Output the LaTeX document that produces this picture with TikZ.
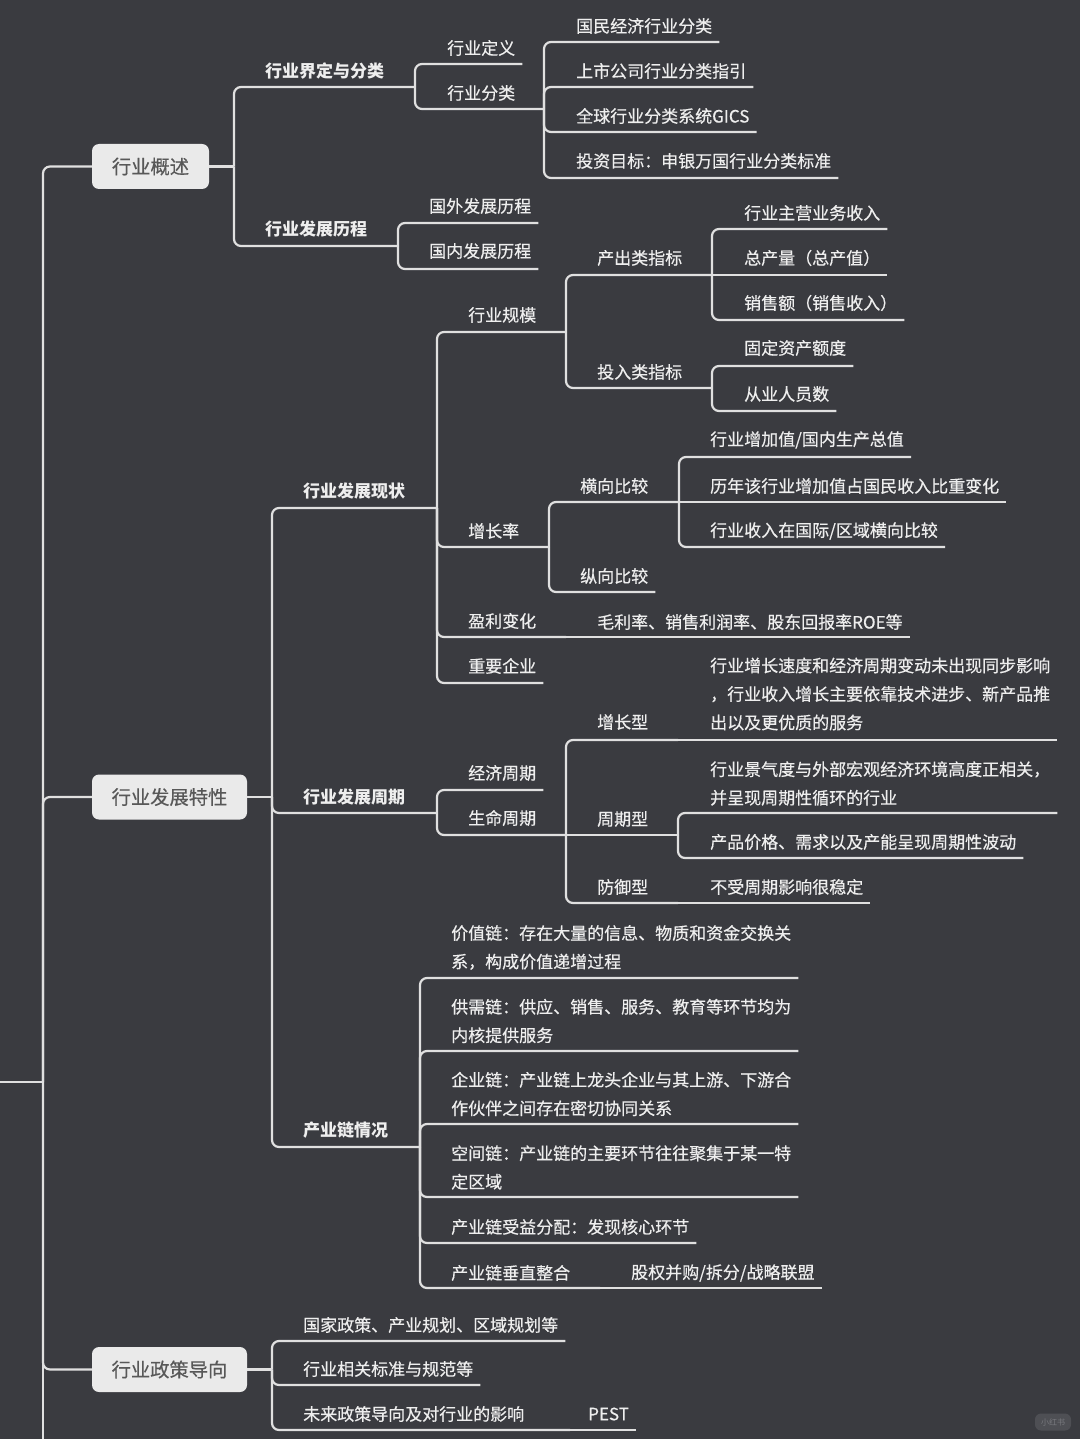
\documentclass[tikz,border=0pt]{standalone}
\usepackage{fontspec}
\setmainfont{Noto Sans CJK SC}
\newfontfamily\medf{Noto Sans CJK SC}[FakeBold=0.45]
\definecolor{bg}{RGB}{58,59,64}
\definecolor{ln}{RGB}{224,224,224}
\definecolor{tx}{RGB}{238,238,238}
\definecolor{boxf}{RGB}{234,234,234}
\definecolor{boxt}{RGB}{88,88,88}
\definecolor{wmf}{RGB}{78,79,84}
\definecolor{wmt}{RGB}{120,121,126}
\tikzset{
  conn/.style={draw=ln, line width=2.2pt, rounded corners=7pt},
  txt/.style={anchor=west, inner xsep=7pt, inner ysep=0pt, text=tx, font=\fontsize{17}{28.5}\selectfont\medf},
  bld/.style={txt, font=\fontsize{17}{28.5}\selectfont\bfseries},
  topbox/.style={rounded corners=7pt, fill=boxf, text=boxt, minimum height=45pt, inner sep=0pt, font=\fontsize{19.3}{24}\selectfont\medf}
}
\begin{document}
\begin{tikzpicture}[x=1pt,y=-1pt]
\fill[bg] (0,0) rectangle (1080,1439);
\useasboundingbox (0,0) rectangle (1080,1439);
\clip (0,0) rectangle (1080,1439);

% ---------- top level boxes ----------
\node[topbox, minimum width=117pt] (gs) at (150.5,166.5) {行业概述};
\node[topbox, minimum width=155pt] (tx) at (169.5,797) {行业发展特性};
\node[topbox, minimum width=155pt] (zc) at (169.5,1369.5) {行业政策导向};

% ---------- spine ----------
\coordinate (root) at (43,1082);
\coordinate (rootin) at (-5,1082);
\coordinate (rootout) at (43,1460);
\draw[draw=ln, line width=2.2pt] (rootin) -- (root);
\draw[draw=ln, line width=2.2pt] (root) -- (rootout);
\draw[conn] (root) |- (gs.west);
\draw[conn] (root) |- (tx.west);
\draw[conn] (root) |- (zc.west);

% ---------- 行业概述 ----------
\node[bld] (a1) at (258,71) {行业界定与分类};
\node[bld] (a2) at (258,229) {行业发展历程};
\coordinate (j1) at (234,166.5);
\coordinate (k1) at (415,87);
\coordinate (k2) at (398,246);
\draw[conn] (gs.east) -- (j1);
\draw[conn] (j1) |- (k1);
\draw[conn] (j1) |- (k2);

\node[txt] (a11) at (440,48) {行业定义};
\node[txt] (a12) at (440,93) {行业分类};
\coordinate (k3) at (544,109);
\draw[conn] (k1) |- (a11.east |- 0,64);
\draw[conn] (k1) |- (k3);

\node[txt] (a121) at (569,26) {国民经济行业分类};
\node[txt] (a122) at (569,71) {上市公司行业分类指引};
\node[txt] (a123) at (569,116) {全球行业分类系统GICS};
\node[txt] (a124) at (569,161) {投资目标：申银万国行业分类标准};
\draw[conn] (k3) |- (a121.east |- 0,42);
\draw[conn] (k3) |- (a122.east |- 0,87);
\draw[conn] (k3) |- (a123.east |- 0,132);
\draw[conn] (k3) |- (a124.east |- 0,178);

\node[txt] (a21) at (422,206) {国外发展历程};
\node[txt] (a22) at (422,251) {国内发展历程};
\draw[conn] (k2) |- (a21.east |- 0,223);
\draw[conn] (k2) |- (a22.east |- 0,269);

% ---------- 行业发展特性 ----------
\coordinate (j2) at (272,797);
\draw[conn] (tx.east) -- (j2);
\node[bld] (b1) at (296,491) {行业发展现状};
\node[bld] (b2) at (296,797) {行业发展周期};
\node[bld] (b3) at (296,1130) {产业链情况};
\coordinate (k4) at (437,508);
\coordinate (k5) at (437,813);
\coordinate (k6) at (420,1147);
\draw[conn] (j2) |- (k4);
\draw[conn] (j2) |- (k5);
\draw[conn] (j2) |- (k6);

% 现状
\node[txt] (b11) at (461,315) {行业规模};
\node[txt] (b12) at (461,531) {增长率};
\node[txt] (b13) at (461,621) {盈利变化};
\node[txt] (b14) at (461,666) {重要企业};
\coordinate (k7) at (566,332);
\coordinate (k8) at (549,547);
\coordinate (k9) at (566,637);
\draw[conn] (k4) |- (k7);
\draw[conn] (k4) |- (k8);
\draw[conn] (k4) |- (k9);
\draw[conn] (k4) |- (b14.east |- 0,683);

% 规模
\node[txt] (b111) at (590,258) {产出类指标};
\node[txt] (b112) at (590,372) {投入类指标};
\coordinate (k10) at (712,275);
\coordinate (k11) at (712,388);
\draw[conn] (k7) |- (k10);
\draw[conn] (k7) |- (k11);
\node[txt] (c1) at (737,213) {行业主营业务收入};
\node[txt] (c2) at (737,258) {总产量（总产值）};
\node[txt] (c3) at (737,303) {销售额（销售收入）};
\draw[conn] (k10) |- (c1.east |- 0,229);
\draw[conn] (k10) -- (c2.east |- k10);
\draw[conn] (k10) |- (c3.east |- 0,320);
\node[txt] (c4) at (737,348) {固定资产额度};
\node[txt] (c5) at (737,394) {从业人员数};
\draw[conn] (k11) |- (c4.east |- 0,366);
\draw[conn] (k11) |- (c5.east |- 0,411);

% 增长率
\node[txt] (b121) at (573,486) {横向比较};
\node[txt] (b122) at (573,576) {纵向比较};
\coordinate (k12) at (679,502);
\draw[conn] (k8) |- (k12);
\draw[conn] (k8) |- (b122.east |- 0,592);
\node[txt] (d1) at (703,440) {行业增加值/国内生产总值};
\node[txt] (d2) at (703,486) {历年该行业增加值占国民收入比重变化};
\node[txt] (d3) at (703,531) {行业收入在国际/区域横向比较};
\draw[conn] (k12) |- (d1.east |- 0,457);
\draw[conn] (k12) -- (d2.east |- k12);
\draw[conn] (k12) |- (d3.east |- 0,547);

% 盈利
\node[txt] (b131) at (590,622) {毛利率、销售利润率、股东回报率ROE等};
\draw[conn] (k9) -- (b131.east |- k9);

% 周期
\node[txt] (b21) at (461,773) {经济周期};
\node[txt] (b22) at (461,818) {生命周期};
\coordinate (k13) at (566,835);
\draw[conn] (k5) |- (b21.east |- 0,790);
\draw[conn] (k5) |- (k13);
\node[txt] (e1) at (590,722) {增长型};
\node[txt] (e2) at (590,819) {周期型};
\node[txt] (e3) at (590,887) {防御型};
\coordinate (k14) at (678,740);
\coordinate (k15) at (678,835);
\coordinate (k16) at (678,903);
\draw[conn] (k13) |- (k14);
\draw[conn] (k13) -- (k15);
\draw[conn] (k13) |- (k16);
\node[txt, align=left] (e11) at (703,694) {行业增长速度和经济周期变动未出现同步影响\\，行业收入增长主要依靠技术进步、新产品推\\出以及更优质的服务};
\draw[conn] (k14) -- (e11.east |- k14);
\node[txt, align=left] (e21) at (703,783.5) {行业景气度与外部宏观经济环境高度正相关，\\并呈现周期性循环的行业};
\node[txt] (e22) at (703,842) {产品价格、需求以及产能呈现周期性波动};
\draw[conn] (k15) |- (e21.east |- 0,813);
\draw[conn] (k15) |- (e22.east |- 0,858);
\node[txt] (e31) at (703,887) {不受周期影响很稳定};
\draw[conn] (k16) -- (e31.east |- k16);

% 产业链
\node[txt, align=left] (f1) at (444,947.5) {价值链：存在大量的信息、物质和资金交换关\\系，构成价值递增过程};
\node[txt, align=left] (f2) at (444,1021) {供需链：供应、销售、服务、教育等环节均为\\内核提供服务};
\node[txt, align=left] (f3) at (444,1094) {企业链：产业链上龙头企业与其上游、下游合\\作伙伴之间存在密切协同关系};
\node[txt, align=left] (f4) at (444,1167.5) {空间链：产业链的主要环节往往聚集于某一特\\定区域};
\node[txt] (f5) at (444,1227) {产业链受益分配：发现核心环节};
\node[txt] (f6) at (444,1273) {产业链垂直整合};
\node[txt] (f61) at (624,1273) {股权并购/拆分/战略联盟};
\coordinate (k17) at (600,1288);
\draw[conn] (k6) |- (f1.east |- 0,978);
\draw[conn] (k6) |- (f2.east |- 0,1051);
\draw[conn] (k6) |- (f3.east |- 0,1124);
\draw[conn] (k6) |- (f4.east |- 0,1197);
\draw[conn] (k6) |- (f5.east |- 0,1243);
\draw[conn] (k6) |- (k17);
\draw[conn] (k17) -- (f61.east |- k17);

% ---------- 行业政策导向 ----------
\coordinate (j3) at (272,1369.5);
\draw[conn] (zc.east) -- (j3);
\node[txt] (g1) at (296,1325) {国家政策、产业规划、区域规划等};
\node[txt] (g2) at (296,1369) {行业相关标准与规范等};
\node[txt] (g3) at (296,1414) {未来政策导向及对行业的影响};
\node[txt] (g31) at (581,1414) {PEST};
\coordinate (k18) at (570,1430);
\draw[conn] (j3) |- (g1.east |- 0,1341);
\draw[conn] (j3) |- (g2.east |- 0,1385);
\draw[conn] (j3) |- (k18);
\draw[conn] (k18) -- (g31.east |- k18);

% watermark
\node[rounded corners=6pt, fill=wmf, text=wmt, inner sep=0pt, minimum width=36pt, minimum height=17pt, font=\fontsize{8}{8}\selectfont] (wm) at (1053,1422) {小红书};
\end{tikzpicture}
\end{document}
